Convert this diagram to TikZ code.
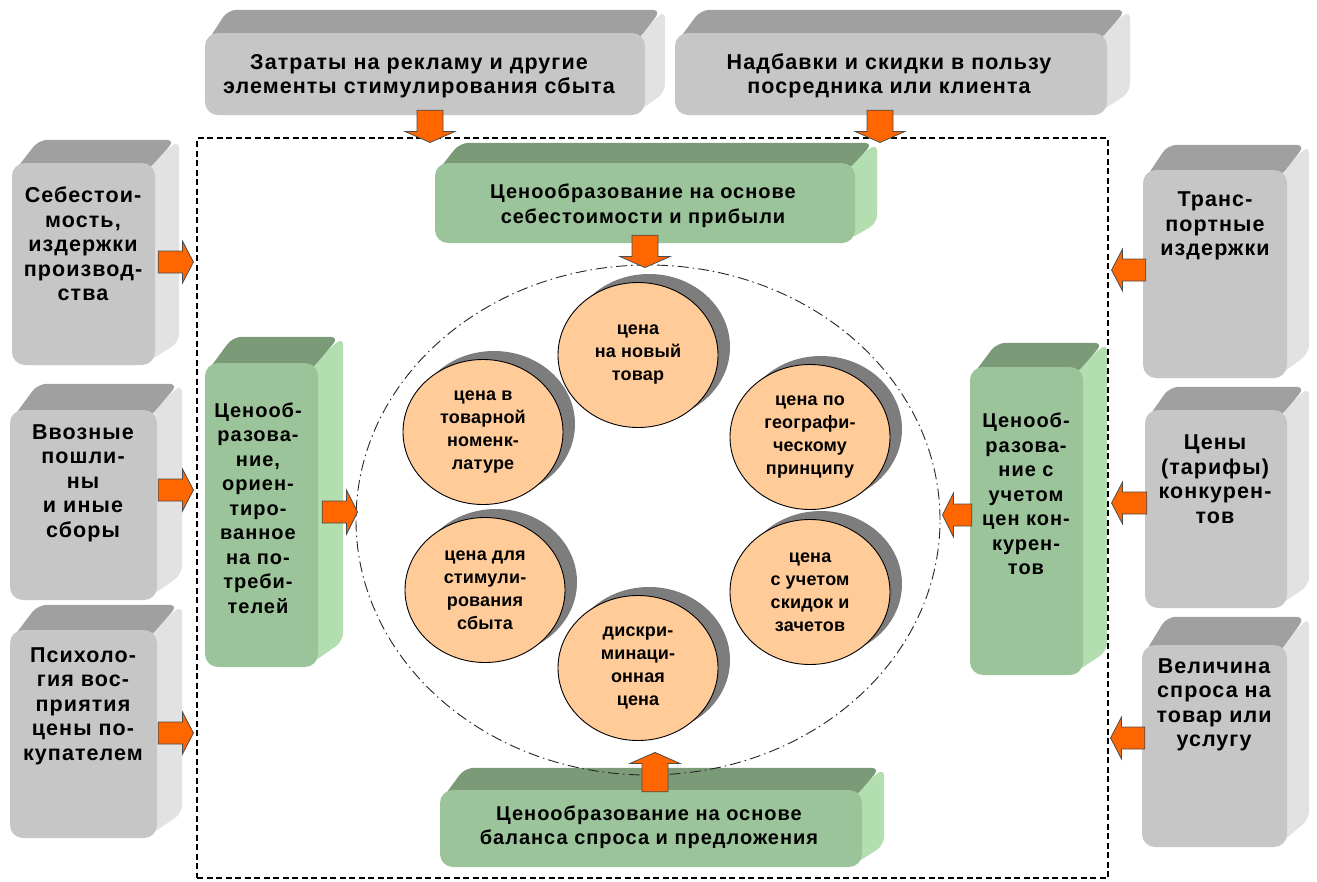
\documentclass[tikz,border=0pt]{standalone}
\usepackage{fontspec}
\setmainfont{Liberation Sans}
\newfontfamily\boxfont{Liberation Sans}[LetterSpace=5.0]
\newfontfamily\circfont{Liberation Sans}[LetterSpace=1.0]
\usetikzlibrary{calc,backgrounds,shapes.geometric}

\definecolor{grayfront}{RGB}{198,198,198}
\definecolor{graytop}{RGB}{160,160,160}
\definecolor{grayside}{RGB}{226,226,226}
\definecolor{greenfront}{RGB}{156,196,154}
\definecolor{greentop}{RGB}{122,154,120}
\definecolor{greenside}{RGB}{178,222,176}
\definecolor{peach}{RGB}{255,204,153}
\definecolor{arroworange}{RGB}{255,102,0}
\definecolor{shadowgray}{RGB}{125,125,125}

\tikzset{
  boxfront/.style={rectangle, rounded corners=13pt, inner sep=0pt, draw=none},
  btext/.style={font=\boxfont\bfseries\fontsize{20}{24.5}\selectfont, align=center, inner sep=0pt, text=black},
  graytext/.style={font=\boxfont\bfseries\fontsize{21.5}{24.5}\selectfont},
  greentext/.style={},
  circ/.style={ellipse, draw=black, line width=0.9pt, fill=peach, minimum width=160pt, minimum height=145pt, inner sep=0pt, align=center, font=\circfont\bfseries\fontsize{18}{23}\selectfont},
  dashframe/.style={rectangle, draw=black, line width=1.1pt, dash pattern=on 6pt off 3.5pt, inner sep=0pt},
  ring/.style={ellipse, draw=black!85, line width=0.9pt, dash pattern=on 11pt off 4pt on 1.5pt off 4pt, inner sep=0pt},
  barrow/.style={fill=arroworange, draw=black!70, line width=0.8pt, line join=miter},
}

% 3D box: name, center, width, height, dx, dy, colour prefix, text position, text
\newcommand\tdbox[9]{%
  \node[boxfront, fill=#7front, minimum width=#3pt, minimum height=#4pt] (#1) at (#2) {};
  \begin{scope}[on background layer]
    \fill[#7side, rounded corners=9pt] ($(#1.north east)+(-8,3)$) -- ($(#1.north east)+(#5,#6)$) -- ($(#1.south east)+(#5,#6)$) -- ($(#1.south east)+(-8,-3)$) -- cycle;
    \fill[#7top, rounded corners=9pt] ($(#1.north west)+(3,8)$) -- ($(#1.north west)+(#5,#6)+(3,0)$) -- ($(#1.north east)+(#5,#6)+(-4,0)$) -- ($(#1.north east)+(-8,8)$) -- cycle;
  \end{scope}
  \node[btext, #7text] (#1t) at (#8) {#9};}

% price circle with shadow
\newcommand\pricecirc[3]{%
  \node[circ] (#1) at (#2) {#3};
  \begin{scope}[on background layer]
    \fill[shadowgray] ($(#1.center)+(11,-8)$) ellipse [x radius=81pt, y radius=73pt];
  \end{scope}}

% block arrow: shaft half width, head half width, start, end
\newcommand\blockarrow[4]{%
  \draw[barrow] ($(#3)!#1!90:(#4)$) -- ($($(#4)!11pt!(#3)$)!#1!90:(#4)$) -- ($($(#4)!11pt!(#3)$)!#2!90:(#4)$) -- (#4) -- ($($(#4)!11pt!(#3)$)!#2!-90:(#4)$) -- ($($(#4)!11pt!(#3)$)!#1!-90:(#4)$) -- ($(#3)!#1!-90:(#4)$) -- cycle;}

\begin{document}
\begin{tikzpicture}[x=1pt,y=-1pt]
\begin{scope}[on background layer]
  \fill[white] (0,0) rectangle (1317,881);
\end{scope}
\useasboundingbox (0,0) rectangle (1317,881);

\node[dashframe, minimum width=911pt, minimum height=740pt] (frame) at (652.5,508) {};
\node[ring, minimum width=584pt, minimum height=510pt] (ring) at (648,520) {};

\tdbox{g1}{425,74}{440}{82}{20}{-23}{gray}{419,76}{Затраты на рекламу и другие\\элементы стимулирования сбыта}
\tdbox{g2}{891,74}{432}{82}{23}{-23}{gray}{889,76}{Надбавки и скидки в пользу\\посредника или клиента}
\tdbox{gl1}{83.5,264}{143}{202}{24}{-23}{gray}{83,244}{Себестои-\\мость,\\издержки\\производ-\\ства}
\tdbox{gl2}{83.5,505}{147}{190}{25}{-26}{gray}{83,483}{Ввозные\\пошли-\\ны\\и иные\\сборы}
\tdbox{gl3}{83.5,734}{147}{208}{25}{-25}{gray}{83,706}{Психоло-\\гия вос-\\приятия\\цены по-\\купателем}
\tdbox{gr1}{1215,274}{144}{208}{22}{-25}{gray}{1215,226}{Транс-\\портные\\издержки}
\tdbox{gr2}{1216,509}{142}{198}{22}{-23}{gray}{1215,479}{Цены\\(тарифы)\\конкурен-\\тов}
\tdbox{gr3}{1214.5,746}{145}{202}{22}{-28}{gray}{1214,705}{Величина\\спроса на\\товар или\\услугу}
\tdbox{gt}{645,203}{420}{80}{22}{-20}{green}{643,205.5}{Ценообразование на основе\\себестоимости и прибыли}
\tdbox{gb}{651,828.5}{422}{77}{22}{-22}{green}{649,827}{Ценообразование на основе\\баланса спроса и предложения}
\tdbox{gL}{261.5,515}{113}{304}{25}{-26}{green}{258,508}{Ценооб-\\разова-\\ние,\\ориен-\\тиро-\\ванное\\на по-\\треби-\\телей}
\tdbox{gR}{1026.5,521}{113}{308}{24}{-24}{green}{1026,494}{Ценооб-\\разова-\\ние с\\учетом\\цен кон-\\курен-\\тов}

\pricecirc{c1}{638,355}{цена\\на новый\\товар}
\pricecirc{c2}{483,432}{цена в\\товарной\\номенк-\\латуре}
\pricecirc{c3}{810,437}{цена по\\географи-\\ческому\\принципу}
\pricecirc{c4}{485,590}{цена для\\стимули-\\рования\\сбыта}
\pricecirc{c5}{810,592}{цена\\с учетом\\скидок и\\зачетов}
\pricecirc{c6}{638,668}{дискри-\\минаци-\\онная\\цена}

% arrow end points
\coordinate (a1s) at ($(g1.south)+(5,-5)$);
\coordinate (a1e) at ($(a1s |- frame.north)+(0,5)$);
\coordinate (a2s) at ($(g2.south)+(-11,-5)$);
\coordinate (a2e) at ($(a2s |- frame.north)+(0,5)$);
\coordinate (a3s) at ($(gl1.east)+(3,-2)$);
\coordinate (a3e) at ($(a3s -| frame.west)+(-3,0)$);
\coordinate (a4s) at ($(gl2.east)+(1,-15)$);
\coordinate (a4e) at ($(a4s -| frame.west)+(-3,0)$);
\coordinate (a5s) at ($(gl3.east)+(1,-1)$);
\coordinate (a5e) at ($(a5s -| frame.west)+(-3,0)$);
\coordinate (a6s) at ($(gr1.west)+(3,-4)$);
\coordinate (a6e) at ($(a6s -| frame.east)+(3,0)$);
\coordinate (a7s) at ($(gr2.west)+(2,-6)$);
\coordinate (a7e) at ($(a7s -| frame.east)+(3,0)$);
\coordinate (a8s) at ($(gr3.west)+(3,-8)$);
\coordinate (a8e) at ($(a8s -| frame.east)+(2,0)$);
\coordinate (a9s) at ($(gt.south)+(0,-8)$);
\coordinate (a9e) at ($(a9s |- ring.north)+(0,3)$);
\coordinate (a10s) at ($(gb.north)+(4,2)$);
\coordinate (a10e) at ($(a10s |- ring.south)+(0,-23)$);
\coordinate (a11s) at ($(gL.east)+(4,-3)$);
\coordinate (a11e) at ($(a11s -| ring.west)+(2,0)$);
\coordinate (a12s) at ($(gR.west)+(2,-6)$);
\coordinate (a12e) at ($(a12s -| ring.east)+(2,0)$);

\blockarrow{13pt}{25pt}{a1s}{a1e}
\blockarrow{13pt}{25pt}{a2s}{a2e}
\blockarrow{11pt}{21pt}{a3s}{a3e}
\blockarrow{11pt}{21pt}{a4s}{a4e}
\blockarrow{11pt}{21pt}{a5s}{a5e}
\blockarrow{11pt}{21pt}{a6s}{a6e}
\blockarrow{11pt}{21pt}{a7s}{a7e}
\blockarrow{11pt}{21pt}{a8s}{a8e}
\blockarrow{13pt}{25pt}{a9s}{a9e}
\blockarrow{13pt}{25pt}{a10s}{a10e}
\blockarrow{11pt}{22pt}{a11s}{a11e}
\blockarrow{11pt}{22pt}{a12s}{a12e}
\end{tikzpicture}
\end{document}
